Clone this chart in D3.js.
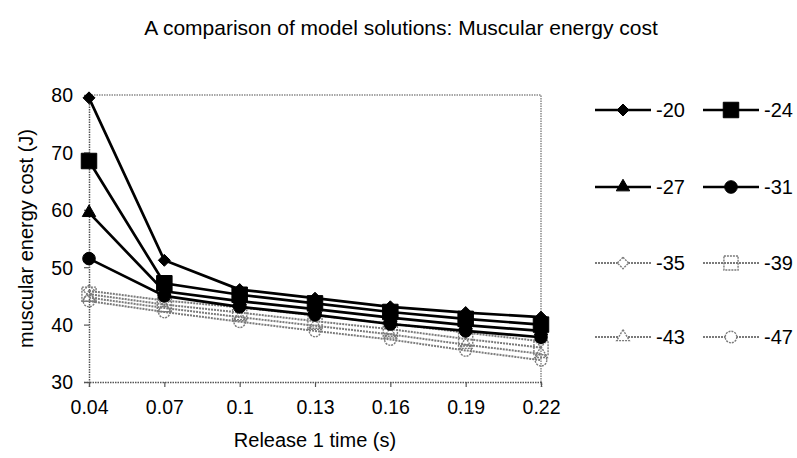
<!DOCTYPE html>
<html>
<head>
<meta charset="utf-8">
<script src="https://cdn.jsdelivr.net/npm/d3@7"></script>
<style>
  body { margin: 0; background: #fff; }
  svg { display: block; font-family: Arial, "Liberation Sans", sans-serif; }
</style>
</head>
<body>
<svg id="chart" width="797" height="458"></svg>
<script>
// Release 1 time (s) categories
const releaseTimes = ["0.04", "0.07", "0.1", "0.13", "0.16", "0.19", "0.22"];
const yTicks = [30, 40, 50, 60, 70, 80];

// Muscular energy cost (J) for each model solution
const s20 = [79.5, 51.2, 46.1, 44.6, 43.1, 42.1, 41.3];
const s24 = [68.5, 47.2, 45.2, 43.7, 42.2, 41.0, 40.0];
const s27 = [59.5, 45.8, 44.1, 42.7, 41.2, 39.9, 38.9];
const s31 = [51.5, 45.0, 43.1, 41.7, 40.1, 38.9, 37.8];
const s35 = [45.9, 44.2, 43.0, 41.6, 40.2, 38.6, 37.1];
const s39 = [45.3, 43.5, 42.1, 40.6, 39.2, 37.5, 36.0];
const s43 = [44.7, 42.9, 41.3, 39.8, 38.3, 36.5, 34.9];
const s47 = [44.1, 42.2, 40.5, 38.9, 37.4, 35.5, 33.8];

const seriesNames = ["-20", "-24", "-27", "-31", "-35", "-39", "-43", "-47"];
const seriesValues = [s20, s24, s27, s31, s35, s39, s43, s47];

// A diamond with equal diagonals (rotated square)
const squareDiamond = {
  draw(context, size) {
    const r = Math.sqrt(size / 2);
    context.moveTo(0, -r);
    context.lineTo(r, 0);
    context.lineTo(0, r);
    context.lineTo(-r, 0);
    context.closePath();
  }
};

// Marker and line style for each series
const styles = [
  { sym: squareDiamond,     size: 72,  solid: true },
  { sym: d3.symbolSquare,   size: 240, solid: true },
  { sym: d3.symbolTriangle, size: 78,  solid: true },
  { sym: d3.symbolCircle,   size: 125, solid: true },
  { sym: squareDiamond,     size: 64,  solid: false },
  { sym: d3.symbolSquare,   size: 200, solid: false },
  { sym: d3.symbolTriangle, size: 70,  solid: false },
  { sym: d3.symbolCircle,   size: 105, solid: false }
];

const svg = d3.select("#chart");
const plot = { left: 89, right: 541, top: 95, bottom: 382 };

const x = d3.scalePoint().domain(releaseTimes).range([plot.left, plot.right]).padding(0);
const y = d3.scaleLinear().domain([30, 80]).range([plot.bottom, plot.top]);

const gray = "#7a7a7a";

// Plot area frame (top and right edges)
svg.append("path")
  .attr("d", `M${plot.left},${plot.top}H${plot.right}V${plot.bottom}`)
  .attr("fill", "none").attr("stroke", "#8a8a8a").attr("stroke-width", 1.5)
  .attr("stroke-dasharray", "1.5,1");

// Axes
const yAxis = svg.append("g")
  .attr("transform", `translate(${plot.left},0)`)
  .call(d3.axisLeft(y).tickValues(yTicks).tickSize(5).tickPadding(11));
const xAxis = svg.append("g")
  .attr("transform", `translate(0,${plot.bottom})`)
  .call(d3.axisBottom(x).tickSize(5).tickPadding(13));

[yAxis, xAxis].forEach(g => {
  g.select(".domain").attr("stroke", "#555").attr("stroke-width", 1.5).attr("stroke-dasharray", "1.5,1");
  g.selectAll(".tick line").attr("stroke", "#555").attr("stroke-width", 1.2);
  g.selectAll(".tick text").attr("fill", "#000").style("font-size", "19.5px")
    .style("font-family", "Arial, 'Liberation Sans', sans-serif");
});
yAxis.selectAll(".tick text").attr("dy", "0.35em");

const line = d3.line().x((d, i) => x(releaseTimes[i])).y(d => y(d));

// Draw gray series first, black ones on top
const order = [7, 6, 5, 4, 3, 2, 1, 0];
order.forEach(k => {
  const st = styles[k];
  const g = svg.append("g");
  g.append("path")
    .datum(seriesValues[k])
    .attr("d", line)
    .attr("fill", "none")
    .attr("stroke", st.solid ? "#000" : gray)
    .attr("stroke-width", st.solid ? 2.7 : 2)
    .attr("stroke-dasharray", st.solid ? null : "2,1");
  g.selectAll("path.m")
    .data(seriesValues[k])
    .join("path")
    .attr("class", "m")
    .attr("transform", (d, i) => `translate(${x(releaseTimes[i])},${y(d)})`)
    .attr("d", d3.symbol().type(st.sym).size(st.size))
    .attr("fill", st.solid ? "#000" : "none")
    .attr("stroke", st.solid ? "#000" : gray)
    .attr("stroke-width", st.solid ? 1 : 1.4)
    .attr("stroke-dasharray", st.solid ? null : "2,1");
});

// Legend: two columns, four rows
const legendRows = [110, 187, 263, 337];
const legendCols = [595, 703];
seriesNames.forEach((name, k) => {
  const st = styles[k];
  const lx = legendCols[k % 2];
  const ly = legendRows[Math.floor(k / 2)];
  const g = svg.append("g").attr("transform", `translate(${lx},${ly})`);
  g.append("line")
    .attr("x1", 0).attr("x2", 56).attr("y1", 0).attr("y2", 0)
    .attr("stroke", st.solid ? "#000" : gray)
    .attr("stroke-width", st.solid ? 2.7 : 2)
    .attr("stroke-dasharray", st.solid ? null : "2,1");
  g.append("path")
    .attr("transform", "translate(28,0)")
    .attr("d", d3.symbol().type(st.sym).size(st.size))
    .attr("fill", st.solid ? "#000" : (k === 5 ? "none" : "#fff"))
    .attr("stroke", st.solid ? "#000" : gray)
    .attr("stroke-width", st.solid ? 1 : 1.4)
    .attr("stroke-dasharray", st.solid ? null : "2,1");
  g.append("text")
    .attr("x", 61).attr("y", 0).attr("dy", "0.35em")
    .style("font-size", "20px").text(name);
});

// Titles
svg.append("text")
  .attr("x", 401).attr("y", 35).attr("text-anchor", "middle")
  .style("font-size", "21px")
  .text("A comparison of model solutions: Muscular energy cost");

svg.append("text")
  .attr("transform", `translate(33,${(plot.top + plot.bottom) / 2}) rotate(-90)`)
  .attr("text-anchor", "middle")
  .style("font-size", "20px")
  .text("muscular energy cost (J)");

svg.append("text")
  .attr("x", (plot.left + plot.right) / 2).attr("y", 447).attr("text-anchor", "middle")
  .style("font-size", "20px")
  .text("Release 1 time (s)");
</script>
</body>
</html>
